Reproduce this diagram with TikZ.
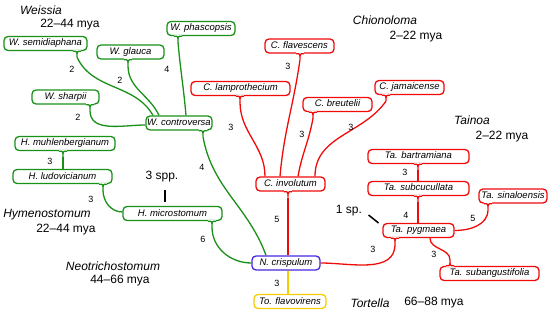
\documentclass[tikz,border=0pt]{standalone}
\usepackage{fontspec}
\setmainfont{Liberation Sans}
\usetikzlibrary{calc,positioning}

\definecolor{treegreen}{RGB}{25,145,25}
\definecolor{treered}{RGB}{240,10,10}
\definecolor{treeblue}{RGB}{70,40,225}
\definecolor{treeyellow}{RGB}{245,205,0}

% notch of a taxon box: style, tip name, point on edge, tip offset, half width
\newcommand{\tabnotch}[5]{%
    \draw[white, line width=2.6pt] ($#3-#5$) -- ($#3+#5$);
    \draw[#1] ($#3-#5$) .. controls #3 .. ($#3+#4$) coordinate (#2) .. controls #3 .. ($#3+#5$);
}

\begin{document}
\begin{tikzpicture}[x=1pt, y=-1pt]
    \useasboundingbox (0,0) rectangle (550,313);
    \tikzset{taxon/.style={rounded corners=4pt, fill=white, line width=1.3pt, minimum height=14pt, inner sep=0pt, text height=7pt, text depth=2pt, font=\fontsize{9.5}{11}\selectfont\itshape}}
    \tikzset{gnode/.style={taxon, draw=treegreen}, rnode/.style={taxon, draw=treered}}
    \tikzset{bnode/.style={taxon, draw=treeblue}, ynode/.style={taxon, draw=treeyellow}}
    \tikzset{gedge/.style={treegreen, line width=1.3pt}, redge/.style={treered, line width=1.3pt}, yedge/.style={treeyellow, line width=1.3pt}}
    \tikzset{num/.style={font=\fontsize{9}{10}\selectfont}}
    \tikzset{genus/.style={font=\fontsize{12}{14}\selectfont\itshape}, age/.style={font=\fontsize{12}{14}\selectfont}}

    % GENUS LABELS
    \node[genus] (weis) at (41,10) {Weissia};
    \node[age] (weisage) at (70,25) {22--44 mya};
    \node[genus] (chio) at (385,20) {Chionoloma};
    \node[age] (chioage) at (416,37) {2--22 mya};
    \node[genus] (tain) at (472,120) {Tainoa};
    \node[age] (tainage) at (502,137) {2--22 mya};
    \node[genus] (hyme) at (47,215) {Hymenostomum};
    \node[age] (hymeage) at (66,230) {22--44 mya};
    \node[genus] (neot) at (113,266) {Neotrichostomum};
    \node[age] (neotage) at (120,281) {44--66 mya};
    \node[genus] (tort) at (370,303) {Tortella};
    \node[age] (tortage) at (434,303) {66--88 mya};
    \node[age] (spp3) at (162,177) {3 spp.};
    \node[age] (sp1) at (349,211) {1 sp.};

    % GREEN TAXA
    \node[gnode, minimum width=83pt] (wsemi) at (45.5,43.5) {W. semidiaphana};
    \node[gnode, minimum width=67pt] (wglauca) at (130.5,52) {W. glauca};
    \node[gnode, minimum width=68pt] (wphas) at (201,28.5) {W. phascopsis};
    \node[gnode, minimum width=67pt] (wsharp) at (65.5,97) {W. sharpii};
    \node[gnode, minimum width=66pt] (wcon) at (179,123) {W. controversa};
    \node[gnode, minimum width=100pt] (hmuhl) at (65,143.5) {H. muhlenbergianum};
    \node[gnode, minimum width=99pt] (hlud) at (62.5,176.5) {H. ludovicianum};
    \node[gnode, minimum width=99pt] (hmic) at (172.5,213.5) {H. microstomum};

    % RED TAXA
    \node[rnode, minimum width=69pt] (cflav) at (299.5,46) {C. flavescens};
    \node[rnode, minimum width=99pt] (clamp) at (240.5,88.5) {C. lamprothecium};
    \node[rnode, minimum width=69pt] (cbreu) at (337.5,104.5) {C. breutelii};
    \node[rnode, minimum width=69pt] (cjam) at (409.5,87.5) {C. jamaicense};
    \node[rnode, minimum width=69pt] (cinv) at (290.5,184) {C. involutum};
    \node[rnode, minimum width=101pt] (tbart) at (418.5,156.5) {Ta. bartramiana};
    \node[rnode, minimum width=101pt] (tsubc) at (418.5,188.5) {Ta. subcucullata};
    \node[rnode, minimum width=68pt] (tsinal) at (513,196) {Ta. sinaloensis};
    \node[rnode, minimum width=71pt] (tpyg) at (418.5,230.5) {Ta. pygmaea};
    \node[rnode, minimum width=99pt] (tsuba) at (489.5,273.5) {Ta. subangustifolia};

    % ROOT AND OUTGROUP
    \node[bnode, minimum width=68pt] (ncris) at (286,263) {N. crispulum};
    \node[ynode, minimum width=72pt] (tflav) at (290,301.5) {To. flavovirens};

    % NOTCHES
    \tabnotch{gedge}{t-wsemi}{([xshift=31.5pt]wsemi.south)}{(0,6)}{(4,0)}
    \tabnotch{gedge}{t-wglauca}{([xshift=-2.5pt]wglauca.south)}{(0,6)}{(4,0)}
    \tabnotch{gedge}{t-wphas}{([xshift=-23pt]wphas.south)}{(0,6)}{(4,0)}
    \tabnotch{gedge}{t-wsharp}{([xshift=24.5pt]wsharp.south)}{(0,6)}{(4,0)}
    \tabnotch{gedge}{t-wcon}{([xshift=24pt]wcon.south)}{(0,6)}{(4,0)}
    \tabnotch{gedge}{t-hmuhl}{([xshift=-2pt]hmuhl.south)}{(0,6)}{(4,0)}
    \tabnotch{gedge}{t-hlud}{([xshift=40.5pt]hlud.south)}{(0,6)}{(4,0)}
    \tabnotch{gedge}{t-hmic}{([xshift=39.5pt]hmic.south)}{(0,6)}{(4,0)}
    \tabnotch{redge}{t-cflav}{([xshift=0.5pt]cflav.south)}{(0,6)}{(4,0)}
    \tabnotch{redge}{t-clamp}{([xshift=-0.5pt]clamp.south)}{(0,6)}{(4,0)}
    \tabnotch{redge}{t-cbreu}{([xshift=-24.5pt]cbreu.south)}{(0,6)}{(4,0)}
    \tabnotch{redge}{t-cjam}{([xshift=-23.5pt]cjam.south)}{(0,6)}{(4,0)}
    \tabnotch{redge}{t-cinv}{([xshift=-2.5pt]cinv.south)}{(0,6)}{(4,0)}
    \tabnotch{redge}{t-tbart}{([xshift=-0.5pt]tbart.south)}{(0,6)}{(4,0)}
    \tabnotch{redge}{t-tsubc}{([xshift=-0.5pt]tsubc.south)}{(0,6)}{(4,0)}
    \tabnotch{redge}{t-tsinal}{([xshift=-25pt]tsinal.south)}{(0,6)}{(4,0)}
    \tabnotch{redge}{t-tpyg}{([xshift=-23.5pt]tpyg.south)}{(0,6)}{(4,0)}
    \tabnotch{redge}{t-tsuba}{([xshift=-39.5pt]tsuba.north)}{(0,-6)}{(4,0)}

    % GREEN EDGES
    \draw[gedge] (t-wsemi) to[out=-65,in=120] ([xshift=-26pt]wcon.north);
    \draw[gedge] (t-wglauca) to[out=-90,in=115] ([xshift=-20pt]wcon.north);
    \draw[gedge] (t-wphas) to[out=-85,in=95] ([xshift=7pt]wcon.north);
    \draw[gedge] (t-wsharp) to[out=-90,in=180] ([yshift=-2pt]wcon.west);
    \draw[gedge] (t-wcon) to[out=-80,in=110] ([xshift=-20pt]ncris.north);
    \draw[gedge] (t-hmuhl) -- (t-hmuhl |- hlud.north);
    \draw[gedge] (t-hlud) to[out=-90,in=180] ([yshift=1.5pt]hmic.west);
    \draw[gedge] (t-hmic) to[out=-90,in=180] (ncris.west);

    % RED EDGES
    \draw[redge] (t-clamp) to[out=-90,in=90] ([xshift=-25.5pt]cinv.north);
    \draw[redge] (t-cflav) to[out=-98,in=85] ([xshift=-10.5pt]cinv.north);
    \draw[redge] (t-cbreu) to[out=-100,in=80] ([xshift=7.5pt]cinv.north);
    \draw[redge] (t-cjam) to[out=-125,in=90] ([xshift=24.5pt]cinv.north);
    \draw[redge] (t-cinv) -- (t-cinv |- ncris.north);
    \draw[redge] (t-tbart) -- (t-tbart |- tsubc.north);
    \draw[redge] (t-tsubc) -- (t-tsubc |- tpyg.north);
    \draw[redge] (t-tsinal) to[out=-90,in=0] (tpyg.east);
    \draw[redge] (t-tsuba) to[out=90,in=-90] ([xshift=11.5pt]tpyg.south);
    \draw[redge] (t-tpyg) to[out=-90,in=0] (ncris.east);

    % YELLOW EDGE
    \draw[yedge] ([xshift=2pt]ncris.south) -- ([xshift=2pt]ncris.south |- tflav.north);

    % SPECIES MARKS
    \draw[line width=1.5pt] ([shift={(3,4)}]spp3.south) -- ++(0,12);
    \draw[line width=1.5pt] ([shift={(3,4)}]sp1.east) -- ++(10,8);

    % BRANCH LENGTHS
    \node[num] (l-wsemi) at (72,69) {2};
    \node[num] (l-wglauca) at (120,80) {2};
    \node[num] (l-wphas) at (167,69) {4};
    \node[num] (l-wsharp) at (78,117) {2};
    \node[num] (l-wcon) at (202,167) {4};
    \node[num] (l-hmuhl) at (50,161) {3};
    \node[num] (l-hlud) at (91,199) {3};
    \node[num] (l-hmic) at (203,239) {6};
    \node[num] (l-clamp) at (231,127) {3};
    \node[num] (l-cflav) at (288,66) {3};
    \node[num] (l-cbreu) at (302,134) {3};
    \node[num] (l-cjam) at (351,127) {3};
    \node[num] (l-cinv) at (277,219) {5};
    \node[num] (l-tflav) at (277,283) {3};
    \node[num] (l-tbart) at (405,172) {3};
    \node[num] (l-tsubc) at (406,215) {4};
    \node[num] (l-tsinal) at (473,218) {5};
    \node[num] (l-tpyg) at (373,249) {3};
    \node[num] (l-tsuba) at (434,254) {3};
\end{tikzpicture}
\end{document}
